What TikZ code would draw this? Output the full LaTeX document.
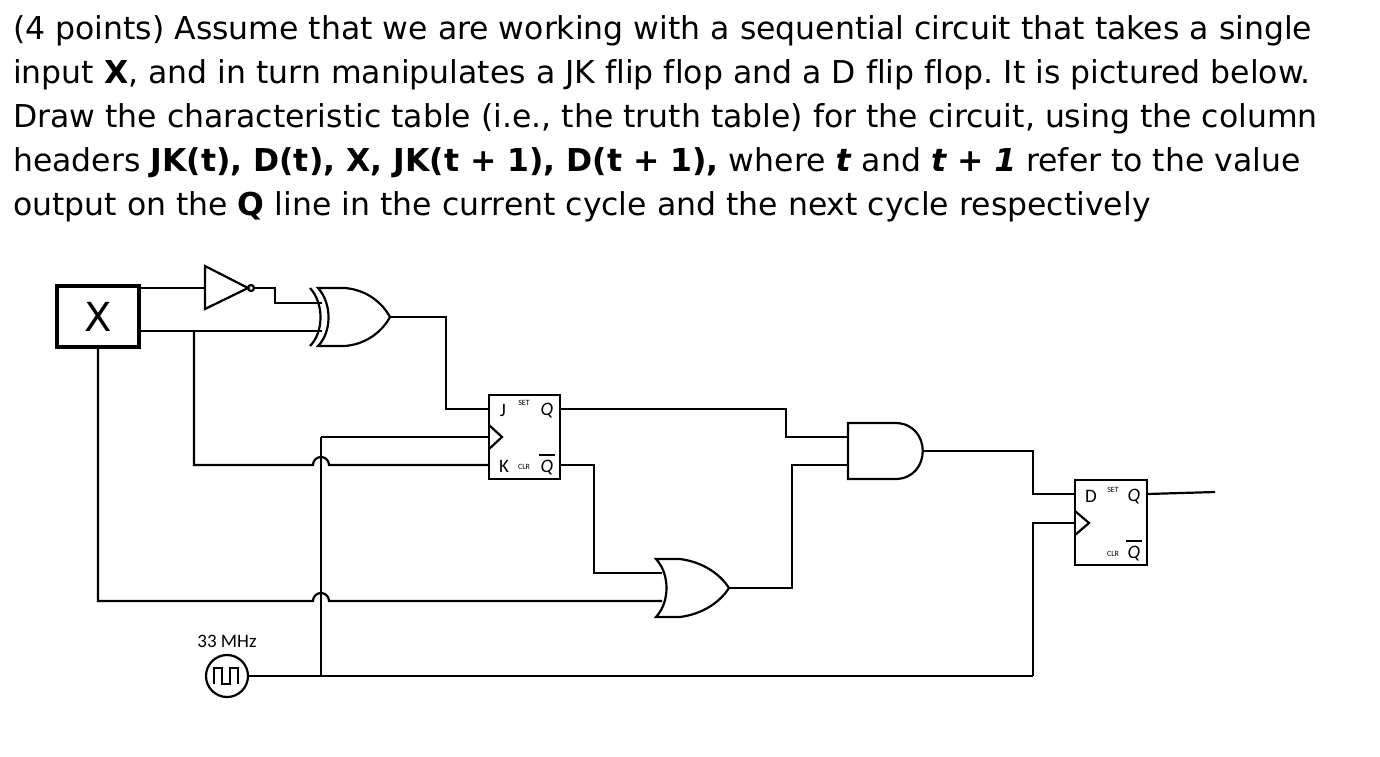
\documentclass[tikz,border=0pt]{standalone}
\usepackage{fontspec}
\setmainfont[Ligatures=NoCommon]{DejaVu Sans}
\newfontfamily\ffont{Carlito}
\frenchspacing
\begin{document}
\begin{tikzpicture}[x=1pt,y=-1pt,line width=2.2pt,
  txt/.style={anchor=base west,inner sep=0pt,font=\fontsize{31.5}{36}\selectfont},
  pin/.style={inner sep=0pt,font=\ffont\fontsize{19}{19}\selectfont},
  tiny/.style={inner sep=0pt,font=\ffont\fontsize{8}{8}\selectfont}]
\useasboundingbox (0,0) rectangle (1380,756);
\fill[white] (0,0) rectangle (1380,756);
% text
\node[txt] (l1) at (12,39) {(4 points) Assume that we are working with a sequential circuit that takes a single};
\node[txt] (l2) at (12,83) {input \textbf{X}, and in turn manipulates a JK flip flop and a D flip flop. It is pictured below.};
\node[txt] (l3) at (12,127) {Draw the characteristic table (i.e., the truth table) for the circuit, using the column};
\node[txt] (l4) at (12,171) {headers \textbf{JK(t), D(t), X, JK(t + 1), D(t + 1),} where \textbf{\textit{t}} and \textbf{\textit{t + 1}} refer to the value};
\node[txt] (l5) at (12,215) {output on the \textbf{Q} line in the current cycle and the next cycle respectively};
% X box
\draw[line width=4pt] (57,286) rectangle (139,347);
\node[inner sep=0pt,font=\fontsize{40}{40}\selectfont] (xl) at (98,317) {X};
% NOT
\draw (205,266) -- (248,288) -- (205,309) -- cycle;
\draw (251,288) circle[radius=3pt];
\draw (139,288) -- (205,288);
\draw (254,288) -- (275,288) -- (275,303) -- (322,303);
\draw (139,331) -- (322,331);
% XOR
\draw (310,288) .. controls (324,303) and (324,332) .. (310,346);
\draw (318,288) .. controls (332,303) and (332,332) .. (318,346)
  -- (345,346) .. controls (368,344) and (383,330) .. (390,317)
  .. controls (383,304) and (368,290) .. (345,288) -- cycle;
\draw (390,317) -- (446,317) -- (446,409) -- (489,409);
% K wire with hop
\draw (194,331) -- (194,465) -- (313,465) arc[start angle=180,end angle=0,radius=8pt] -- (489,465);
% clock to JK
\draw (321,437) -- (489,437);
\draw (321,437) -- (321,676);
% X down to OR
\draw (98,347) -- (98,601) -- (313,601) arc[start angle=180,end angle=0,radius=8pt] -- (662,601);
% JK FF
\draw (489,395) rectangle (560,479);
\draw (489,425) -- (502,437) -- (489,449);
\node[pin] (jj) at (503,410) {J};
\node[pin] (kk) at (504,466) {K};
\node[pin] (jq) at (547,411) {\textit{Q}};
\node[pin] (jqb) at (547,468) {\textit{Q}};
\draw[line width=1.6pt] (539,455) -- (555,455);
\node[tiny] (js) at (524,403) {SET};
\node[tiny] (jc) at (524,467) {CLR};
% Q -> AND
\draw (560,409) -- (786,409) -- (786,437) -- (848,437);
% Qbar -> OR
\draw (560,465) -- (594,465) -- (594,573) -- (662,573);
% OR
\draw (656,559) .. controls (670,574) and (670,602) .. (656,617)
  -- (680,617) .. controls (703,614) and (720,602) .. (729,588)
  .. controls (720,574) and (703,562) .. (680,559) -- cycle;
\draw (729,588) -- (792,588) -- (792,465) -- (848,465);
% AND
\draw (848,423) -- (895,423) .. controls (932,423) and (932,479) .. (895,479) -- (848,479) -- cycle;
\draw (923,451) -- (1033,451) -- (1033,494) -- (1075,494);
% D FF
\draw (1075,480) rectangle (1147,565);
\draw (1075,511) -- (1089,523) -- (1075,535);
\node[pin] (dd) at (1091,496) {D};
\node[pin] (dq) at (1134,497) {\textit{Q}};
\node[pin] (dqb) at (1134,554) {\textit{Q}};
\draw[line width=1.6pt] (1126,541) -- (1142,541);
\node[tiny] (ds) at (1113,490) {SET};
\node[tiny] (dc) at (1113,554) {CLR};
\draw (1147,494) -- (1215,492);
\draw (1075,523) -- (1033,523) -- (1033,676);
% clock
\draw (227,676) circle[radius=21pt];
\draw[line width=2pt] (214,684) -- (214,668) -- (222,668) -- (222,684) -- (230,684) -- (230,668) -- (238,668) -- (238,684);
\node[inner sep=0pt,font=\ffont\fontsize{19}{19}\selectfont] (mhz) at (227,641) {33 MHz};
\draw (248,676) -- (1033,676);
\end{tikzpicture}
\end{document}
